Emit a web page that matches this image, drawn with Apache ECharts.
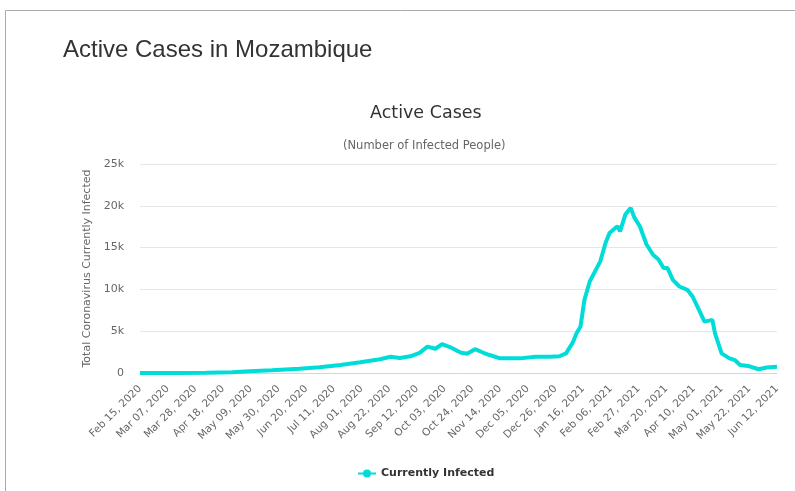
<!DOCTYPE html>
<html>
<head>
<meta charset="utf-8">
<script src="https://cdn.jsdelivr.net/npm/echarts@6/dist/echarts.min.js"></script>
<style>
  html, body { margin: 0; padding: 0; background: #fff; }
  #main { width: 795px; height: 491px; }
</style>
</head>
<body>
<div id="main"></div>
<script>
// x ticks every 21 days starting Feb 15, 2020
var tickLabels = ['Feb 15, 2020', 'Mar 07, 2020', 'Mar 28, 2020', 'Apr 18, 2020', 'May 09, 2020',
    'May 30, 2020', 'Jun 20, 2020', 'Jul 11, 2020', 'Aug 01, 2020', 'Aug 22, 2020', 'Sep 12, 2020',
    'Oct 03, 2020', 'Oct 24, 2020', 'Nov 14, 2020', 'Dec 05, 2020', 'Dec 26, 2020', 'Jan 16, 2021',
    'Feb 06, 2021', 'Feb 27, 2021', 'Mar 20, 2021', 'Apr 10, 2021', 'May 01, 2021', 'May 22, 2021',
    'Jun 12, 2021'];

// day offset since Feb 15, 2020
var days = [0, 30, 50, 70, 83, 100, 121, 136, 152, 167, 182, 190, 197, 205, 212, 218, 224, 229,
    235, 243, 248, 254, 260, 265, 273, 288, 300, 311, 318, 323, 328, 331, 334, 337, 341, 345, 349,
    353, 356, 362, 364, 368, 372, 375, 379, 384, 389, 393, 397, 400, 404, 409, 415, 419, 425, 428,
    434, 436, 441, 447, 451, 455, 461, 469, 475, 483];
var activeCases = [0, 10, 40, 100, 200, 320, 500, 700, 950, 1280, 1650, 1950, 1800, 2000, 2400,
    3150, 2900, 3450, 3100, 2450, 2300, 2850, 2450, 2150, 1750, 1750, 1950, 1950, 2000, 2350, 3600,
    4750, 5550, 8750, 10950, 12150, 13350, 15550, 16750, 17550, 16950, 18950, 19750, 18550, 17550,
    15400, 14150, 13600, 12550, 12550, 11150, 10350, 9950, 9150, 7150, 6150, 6350, 4750, 2350, 1750,
    1550, 950, 850, 450, 650, 750];

var points = [];
for (var i = 0; i < days.length; i++) {
    points.push([days[i], activeCases[i]]);
}

var myChart = echarts.init(document.getElementById('main'));
myChart.setOption({
    backgroundColor: '#fff',
    animation: false,
    title: [
        {
            text: 'Active Cases in Mozambique',
            left: 58, top: 33,
            textStyle: {fontFamily: 'Liberation Sans', fontSize: 24, fontWeight: 'normal', color: '#333'}
        },
        {
            text: 'Active Cases',
            left: 365, top: 99,
            textStyle: {fontFamily: 'DejaVu Sans', fontSize: 17.5, fontWeight: 'normal', color: '#333'}
        },
        {
            text: '(Number of Infected People)',
            left: 338, top: 135,
            textStyle: {fontFamily: 'DejaVu Sans', fontSize: 11.5, fontWeight: 'normal', color: '#666'}
        }
    ],
    graphic: [
        {
            type: 'polyline',
            shape: {points: [[5.5, 491], [5.5, 10.5], [795, 10.5]]},
            style: {stroke: '#aaa', lineWidth: 1, fill: null}
        }
    ],
    legend: {
        data: ['Currently Infected'],
        left: 352, top: 463,
        itemWidth: 18, itemHeight: 10, itemGap: 6,
        textStyle: {fontFamily: 'DejaVu Sans', fontSize: 11, fontWeight: 'bold', color: '#333'}
    },
    grid: {left: 140, right: 18, top: 164, bottom: 118},
    xAxis: {
        type: 'value',
        min: 0, max: 483, interval: 21,
        axisLine: {lineStyle: {color: '#ccd6eb'}},
        axisTick: {show: false},
        splitLine: {show: false},
        axisLabel: {
            rotate: 45, margin: 14,
            fontFamily: 'DejaVu Sans', fontSize: 10.5, color: '#666',
            formatter: function (v) { return tickLabels[Math.round(v / 21)]; }
        }
    },
    yAxis: {
        type: 'value',
        min: 0, max: 25000, interval: 5000,
        name: 'Total Coronavirus Currently Infected',
        nameLocation: 'middle', nameGap: 47,
        nameTextStyle: {fontFamily: 'DejaVu Sans', fontSize: 11, color: '#666'},
        axisLine: {show: false},
        axisTick: {show: false},
        splitLine: {lineStyle: {color: '#e6e6e6'}},
        axisLabel: {
            fontFamily: 'DejaVu Sans', fontSize: 11, color: '#666', margin: 16,
            formatter: function (v) { return v === 0 ? '0' : (v / 1000) + 'k'; }
        }
    },
    series: [
        {
            name: 'Currently Infected',
            type: 'line',
            data: points,
            showSymbol: false,
            symbol: 'circle',
            symbolSize: 8,
            itemStyle: {color: '#00ddd8'},
            lineStyle: {width: 4, color: '#00ddd8'}
        }
    ]
});
</script>
</body>
</html>
